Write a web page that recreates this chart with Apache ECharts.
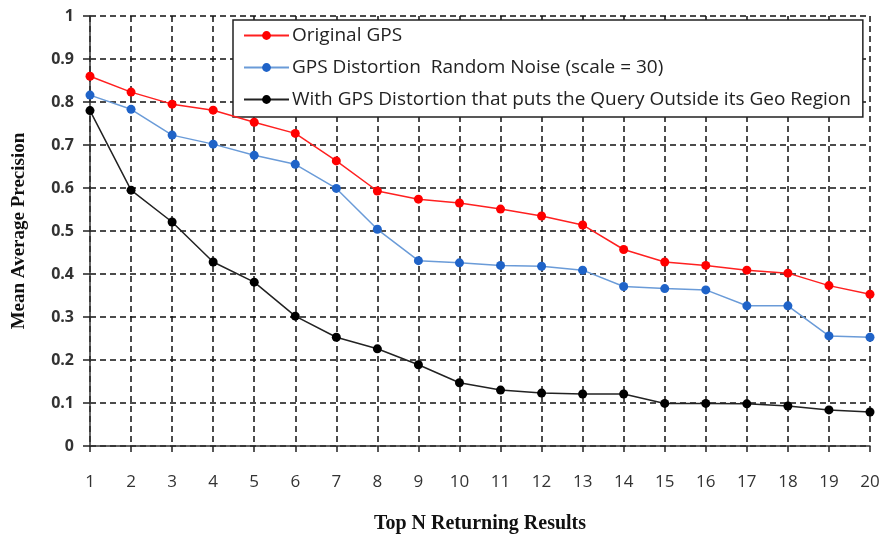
<!DOCTYPE html>
<html><head><meta charset="utf-8">
<script src="https://cdn.jsdelivr.net/npm/echarts@6/dist/echarts.min.js"></script>
<style>html,body{margin:0;padding:0;background:#fff}#c{width:884px;height:536px}</style>
</head><body><div id="c"></div>
<script>
const topN = [1,2,3,4,5,6,7,8,9,10,11,12,13,14,15,16,17,18,19,20];
const originalGPS = [0.860,0.823,0.795,0.781,0.753,0.727,0.663,0.593,0.574,0.565,0.551,0.535,0.514,0.457,0.428,0.420,0.409,0.402,0.373,0.353];
const randomNoise = [0.816,0.783,0.723,0.702,0.676,0.655,0.599,0.504,0.431,0.426,0.420,0.418,0.409,0.371,0.366,0.363,0.326,0.326,0.256,0.253];
const outsideRegion = [0.780,0.595,0.521,0.428,0.381,0.302,0.253,0.226,0.189,0.147,0.130,0.123,0.121,0.121,0.099,0.099,0.098,0.093,0.084,0.079];
const seriesNames = ['Original GPS','GPS Distortion  Random Noise (scale = 30)','With GPS Distortion that puts the Query Outside its Geo Region'];

const pairs = arr => topN.map((n,i)=>[n,arr[i]]);
const chart = echarts.init(document.getElementById('c'));
const mk = (name, data, color, lineColor) => ({
  name, type:'line', data: pairs(data), symbol:'circle', symbolSize:9,
  itemStyle:{color}, lineStyle:{color:lineColor, width:1.5}, z: 5
});
chart.setOption({
  animation:false,
  textStyle:{fontFamily:'"Open Sans", sans-serif'},
  grid:{left:90,right:14,top:16,bottom:90, containLabel:false, outerBoundsMode:'none'},
  legend:{
    orient:'vertical', left:233, top:20,
    padding:[6,12,8,10], itemGap:13, itemWidth:45, itemHeight:11,
    backgroundColor:'#fff', borderColor:'#222', borderWidth:1.5,
    textStyle:{fontSize:19, color:'#222', fontFamily:'"Open Sans", sans-serif', padding:[0,0,0,-2]},
    data: seriesNames
  },
  xAxis:{
    type:'value', min:1, max:20, interval:1,
    name:'Top N Returning Results', nameLocation:'middle', nameGap:68,
    nameTextStyle:{fontFamily:'"Liberation Serif", serif', fontWeight:'bold', fontSize:20, color:'#111'},
    axisLine:{lineStyle:{color:'#333', width:1.5}},
    axisTick:{show:true, length:6, lineStyle:{color:'#222', width:1.5}},
    axisLabel:{fontSize:17, color:'#333', margin:28},
    splitLine:{show:true, lineStyle:{type:[6,4], color:'#111', width:1.5}}
  },
  yAxis:{
    type:'value', min:0, max:1, interval:0.1,
    name:'Mean Average Precision', nameLocation:'middle', nameGap:61, nameRotate:90,
    nameTextStyle:{fontFamily:'"Liberation Serif", serif', fontWeight:'bold', fontSize:19, color:'#111'},
    axisLine:{show:true, lineStyle:{color:'#333', width:1.5}},
    axisTick:{show:true, length:7, lineStyle:{color:'#222', width:1.5}},
    axisLabel:{fontSize:16, fontWeight:'bold', color:'#333', margin:16,
      formatter: v => (Math.round(v*10)/10).toString()},
    splitLine:{show:true, lineStyle:{type:[6,4], color:'#111', width:1.5}}
  },
  series:[
    mk(seriesNames[0], originalGPS, '#ff0000', '#ff2020'),
    mk(seriesNames[1], randomNoise, '#1f63c8', '#6a9bd8'),
    mk(seriesNames[2], outsideRegion, '#000000', '#222222')
  ]
});
</script></body></html>
